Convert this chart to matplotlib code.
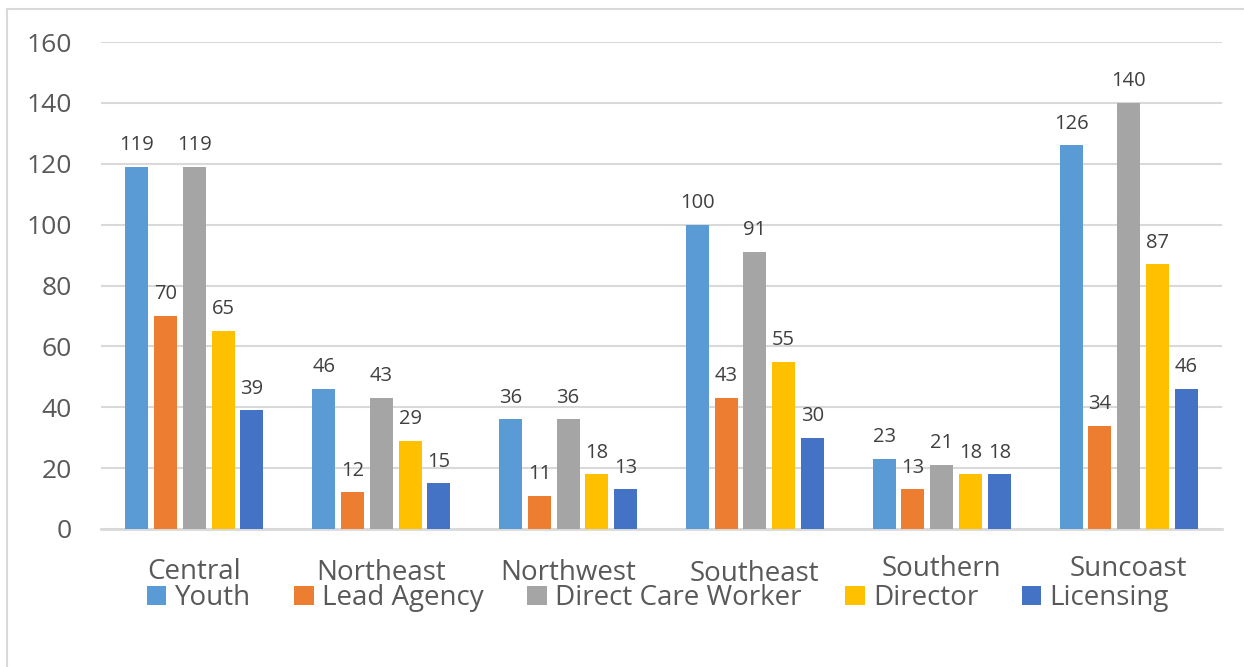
import matplotlib
matplotlib.use("Agg")
import matplotlib.pyplot as plt
from matplotlib.lines import Line2D
from matplotlib.transforms import ScaledTranslation
import numpy as np

plt.rcParams['font.family'] = ['Open Sans', 'DejaVu Sans']

regions = ["Central", "Northeast", "Northwest", "Southeast", "Southern", "Suncoast"]
series_names = ["Youth", "Lead Agency", "Direct Care Worker", "Director", "Licensing"]
youth = [119, 46, 36, 100, 23, 126]
lead_agency = [70, 12, 11, 43, 13, 34]
direct_care = [119, 43, 36, 91, 21, 140]
director = [65, 29, 18, 55, 18, 87]
licensing = [39, 15, 13, 30, 18, 46]
yticks = [0, 20, 40, 60, 80, 100, 120, 140, 160]

colors = ["#5B9BD5", "#ED7D31", "#A5A5A5", "#FFC000", "#4472C4"]
text_color = "#595959"
grid_color = "#D9D9D9"

W, H = 1244, 667
fig = plt.figure(figsize=(W / 100, H / 100), dpi=100)
ax = fig.add_axes([101 / W, 1 - 529 / H, (1222 - 101) / W, (529 - 42) / H])

x = np.arange(len(regions))
bw = 0.123
step = 0.154
all_series = [youth, lead_agency, direct_care, director, licensing]
for i, (vals, name, c) in enumerate(zip(all_series, series_names, colors)):
    pos = x + (i - 2) * step
    ax.bar(pos, vals, width=bw, color=c, label=name, zorder=3)
    for xp, v in zip(pos, vals):
        ax.annotate(str(v), (xp, v), xytext=(0, 12), textcoords='offset points',
                    ha='center', va='baseline', fontsize=14.5, color="#404040")

ax.set_xlim(-0.5, len(regions) - 0.5)
ax.set_ylim(0, 160)
ax.set_yticks(yticks)
ax.yaxis.grid(True, color=grid_color, linewidth=1.5, zorder=0)
ax.set_axisbelow(True)
for s in ['top', 'right', 'left']:
    ax.spines[s].set_visible(False)
ax.spines['bottom'].set_color(grid_color)
ax.spines['bottom'].set_linewidth(2)
ax.tick_params(axis='both', length=0, labelcolor=text_color)
ax.tick_params(axis='y', pad=21, labelsize=19)
ax.set_xticks(x)
ax.set_xticklabels(regions)
ax.tick_params(axis='x', pad=21, labelsize=20)
dy = [0, -1, -1, -2, 3, 3]
for lbl, d in zip(ax.get_xticklabels(), dy):
    lbl.set_transform(lbl.get_transform() + ScaledTranslation(0, d / 100, fig.dpi_scale_trans))

leg = fig.legend(loc='center', bbox_to_anchor=(658 / W, 1 - 598 / H), ncol=5, frameon=False,
                 fontsize=20, handlelength=0.7, handleheight=0.7, handletextpad=0.3,
                 columnspacing=1.57, labelcolor=text_color, borderaxespad=0, borderpad=0)

# figure border (top and left visible)
fig.add_artist(Line2D([7 / W, 1], [1 - 9 / H, 1 - 9 / H], transform=fig.transFigure,
                      color=grid_color, linewidth=1.5))
fig.add_artist(Line2D([7 / W, 7 / W], [0, 1 - 9 / H], transform=fig.transFigure,
                      color=grid_color, linewidth=1.5))

fig.savefig("out.png", dpi=100)
